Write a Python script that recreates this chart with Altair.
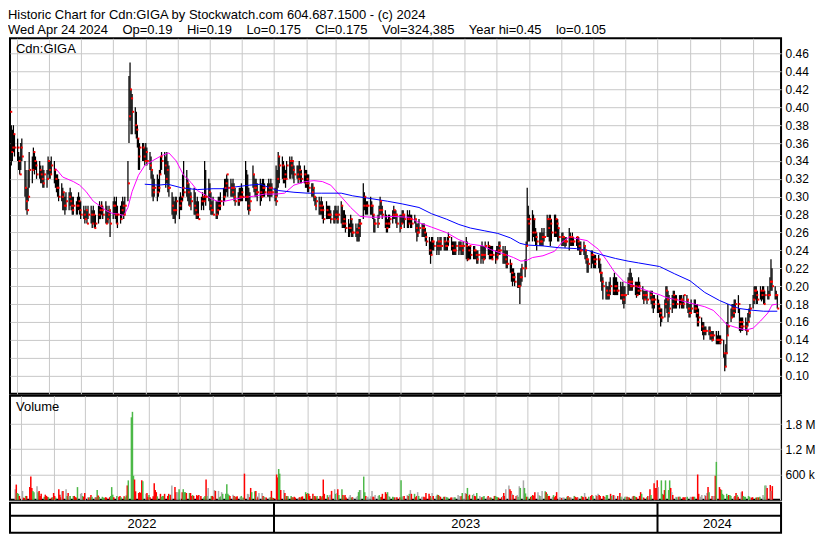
import altair as alt
import pandas as pd
import numpy as np

FONT = "Liberation Sans"
GAP = " \u00a0\u00a0\u00a0"

header_lines = [
    "Historic Chart for Cdn:GIGA by Stockwatch.com 604.687.1500 - (c) 2024",
    "Wed Apr 24 2024" + GAP + "Op=0.19" + GAP + "Hi=0.19" + GAP + "Lo=0.175" + GAP + "Cl=0.175"
    + GAP + "Vol=324,385" + GAP + "Year hi=0.45" + GAP + "lo=0.105",
]
symbol_label = "Cdn:GIGA"
volume_label = "Volume"
price_ticks = [0.10, 0.12, 0.14, 0.16, 0.18, 0.20, 0.22, 0.24, 0.26, 0.28,
               0.30, 0.32, 0.34, 0.36, 0.38, 0.40, 0.42, 0.44, 0.46]
volume_ticks = [600000, 1200000, 1800000]
year_labels = ["2022", "2023", "2024"]
year_starts = ["2023-01-01", "2024-01-01"]

# daily high / low / close in cents, one line per week (Apr 25 2022 .. Apr 24 2024)
high = [
    40, 38, 37.5, 38, 37,
    36.5, 35, 34.5, 36, 36.5,
    34, 33, 31, 33, 35,
    34.5, 35.5, 35, 34.5, 34,
    34, 33.5, 33, 33.5, 33,
    33, 34.5, 34, 34, 34.5,
    34, 33, 32.5, 32.5, 32,
    31.5, 31, 30.5, 30, 30.5,
    30.5, 31, 30.5, 30, 30,
    29.5, 30, 30.5, 30, 29.5,
    29, 28.5, 29, 28.5, 29,
    29, 28.5, 29, 28.5, 28,
    29, 29.5, 29, 29.5, 29,
    29.5, 29, 28.5, 29, 28.5,
    29.5, 30, 29.5, 30, 29,
    29, 29.5, 30, 29.5, 30,
    34, 43.5, 45, 42, 41.5,
    40, 39.5, 38, 36.5, 36,
    36, 36, 35.5, 36, 35.5,
    35, 34.5, 33, 32.5, 32,
    32.5, 32, 33, 34.5, 35,
    35, 34.5, 35, 34, 33.5,
    30.5, 30, 29.5, 30, 30,
    30, 30.5, 30, 32.5, 34,
    33, 32, 31.5, 31, 30.5,
    31, 30.5, 29.5, 30, 29.5,
    30, 30.5, 30, 34, 33,
    32, 31.5, 30.5, 29.5, 30,
    29.5, 29.5, 30, 30, 30.5,
    31, 32, 32, 32.5, 32,
    32, 31.5, 32, 31.5, 31,
    30.5, 31, 31, 31.5, 31,
    34, 33, 32.5, 31, 30.5,
    33.5, 32.5, 32, 32, 31.5,
    32, 31.5, 32, 32, 31.5,
    31.5, 32, 31.5, 32, 31.5,
    31, 33.5, 33, 35, 34.5,
    34.5, 34, 33.5, 33, 34,
    34.5, 34, 34.5, 34, 33.5,
    33.5, 33.5, 34, 33.5, 33,
    33.5, 33, 33, 32.5, 32.5,
    31.5, 31.5, 31, 30, 30,
    30, 29.5, 30, 29.5, 29,
    29.5, 29, 29, 29, 28.5,
    28.5, 29, 29, 28.5, 29,
    29.5, 29, 28.5, 28.5, 28,
    27.5, 27, 28, 27.5, 27,
    27, 26.5, 27, 27.5, 27.5,
    31.5, 30.5, 30, 29.5, 29.5,
    30, 29.5, 29, 28, 27.5,
    28, 29, 30, 29.5, 29,
    28.5, 28, 27.5, 28, 28,
    28.5, 29, 28.5, 28.5, 28,
    28, 28, 28.5, 28.5, 28,
    28.5, 28, 28.5, 28, 28,
    28, 27.5, 27, 27, 27.5,
    27, 27, 27, 26.5, 26,
    25.5, 25, 25.5, 25.5, 25,
    25, 25.5, 25, 25.5, 25.5,
    25.5, 25.5, 25, 25.5, 26,
    25.5, 25, 25, 25, 25,
    25, 25, 25, 24.5, 25,
    25.5, 25, 24.5, 24.5, 24.5,
    24.5, 24.5, 24, 24, 24,
    24.5, 25, 24.5, 24.5, 25,
    25, 24.5, 24.5, 24.5, 24.5,
    24, 24.5, 24.5, 25, 25,
    24.5, 24, 24.5, 24, 24,
    23, 22.5, 22, 22, 21.5,
    21.5, 21.5, 21.5, 22, 22.5,
    23, 25, 31, 29, 28,
    28.5, 28, 27.5, 26.5, 26,
    26, 26, 26.5, 26, 26.5,
    28, 27.5, 28, 28, 27.5,
    28, 28, 27.5, 27.5, 26.5,
    26, 26, 25.5, 25.5, 25.5,
    26.5, 26, 25.5, 26, 25.5,
    25.5, 25.5, 25.5, 25, 25,
    25, 24.5, 24, 23.5, 23,
    24, 24, 23.5, 23.5, 23.5,
    23.5, 23, 22.5, 21.5, 21,
    20.5, 20, 20, 20.5, 21,
    21, 21.5, 21, 21, 20.5,
    20.5, 20, 20.5, 20, 20,
    21, 21.5, 22, 21.5, 21,
    20.5, 20.5, 20.5, 21, 20.5,
    20, 19.5, 19.5, 19.5, 19.5,
    19.5, 19.5, 19.5, 19, 19,
    19, 18.5, 18, 17.5, 17.5,
    18.5, 20, 20, 19.5, 19,
    19, 19.5, 19.5, 19, 19,
    19, 19, 19, 18.5, 19,
    19, 18.5, 18, 18, 18.5,
    18.5, 18.5, 18, 18, 17.5,
    16.5, 16, 16, 15.5, 15.5,
    15.5, 15.5, 15, 15, 15,
    15, 14.5, 15, 14.5, 14.5,
    14, 12.5, 13.5, 16, 18,
    17.5, 18, 18, 18.5, 18.5,
    19, 17.5, 16.5, 16.5, 16.5,
    16.5, 16, 17, 17.5, 18,
    19, 20, 20, 20, 19.5,
    20, 19.5, 20, 20, 19.5,
    20, 19.5, 21, 23, 22,
    20, 19.5, 19,
]
low = [
    36.5, 33.5, 34, 35, 34.5,
    34, 33, 32.5, 33, 34,
    30, 28.5, 28, 29.5, 31,
    31.5, 33, 32.5, 33, 32,
    32, 31.5, 31.5, 31, 31,
    31, 32.5, 32, 32, 32.5,
    31.5, 31, 30.5, 30, 29.5,
    29.5, 28.5, 28.5, 28, 28.5,
    28.5, 29, 28.5, 28, 28,
    28, 28, 28.5, 28, 27.5,
    27.5, 27, 27.5, 27, 27.5,
    27, 26.5, 27, 26.5, 26.5,
    27, 27.5, 27.5, 28, 27.5,
    27, 27, 27, 27.5, 25.5,
    27.5, 28, 27.5, 27, 26.5,
    27, 27.5, 28, 27.5, 28,
    29.5, 36, 38.5, 37, 37,
    37, 36.5, 35.5, 33, 33,
    34, 34, 33.5, 34, 33.5,
    33, 32, 30, 29.5, 30,
    29.5, 30, 30.5, 32.5, 33,
    32.5, 31, 31.5, 30.5, 30,
    28, 27.5, 27.5, 27, 28,
    27.5, 28.5, 28.5, 29.5, 30,
    30, 29.5, 29, 29, 28.5,
    28, 28, 27.5, 27.5, 27.5,
    28.5, 29, 28.5, 29.5, 29,
    29.5, 28.5, 28, 28, 28,
    27.5, 27.5, 28, 28.5, 28.5,
    29, 29.5, 30, 30.5, 30,
    30, 30, 30, 29.5, 29,
    29, 29, 29.5, 29.5, 29.5,
    29.5, 29.5, 28.5, 28, 28.5,
    31, 30.5, 30, 30, 29.5,
    29, 29.5, 30, 30, 30,
    30, 30, 29.5, 30, 30,
    29.5, 29, 30, 31, 31.5,
    32, 31.5, 31.5, 31, 32,
    32, 32, 32.5, 32, 31.5,
    32, 31.5, 32, 31.5, 31.5,
    31.5, 31, 31, 30.5, 30.5,
    30, 30, 29.5, 29, 28.5,
    28, 28, 28, 27.5, 27,
    27.5, 27.5, 27.5, 27.5, 27,
    27, 27, 27.5, 27, 27,
    27, 26.5, 26.5, 26.5, 26,
    25.5, 25.5, 26, 25.5, 25.5,
    25.5, 25, 25, 25, 25.5,
    27.5, 28.5, 28, 28, 28,
    28, 28, 27.5, 26, 26,
    26.5, 27.5, 28, 28, 27.5,
    26.5, 26, 26, 26.5, 26.5,
    27, 27.5, 27.5, 27, 26.5,
    26, 26.5, 27, 27, 26.5,
    26.5, 26.5, 27, 26.5, 26.5,
    27, 26, 25, 25.5, 26,
    25.5, 25.5, 25.5, 25, 24.5,
    23.5, 22.5, 23.5, 24, 24,
    23.5, 24, 23.5, 24, 24,
    24, 24, 24, 24, 24.5,
    24, 23.5, 23.5, 23.5, 23.5,
    23.5, 24, 23.5, 23.5, 23.5,
    23, 22.8, 23, 23, 23,
    23, 23, 23, 22.5, 22.5,
    22.5, 23, 22.5, 23, 23,
    23.5, 23, 23, 23, 23,
    22.5, 23, 23, 23.5, 23.5,
    22.5, 22.5, 22.5, 22, 22,
    21.5, 20.5, 20, 20.5, 20,
    19.8, 19.8, 18, 20, 20.5,
    21, 22, 24.5, 25, 25,
    25, 25.5, 25, 24.5, 24,
    24.5, 24.5, 24.5, 24.5, 25,
    25.5, 25.5, 25, 24.5, 25,
    25.5, 25.5, 25.5, 25, 25,
    24.5, 24.5, 24.5, 24.3, 24.5,
    24, 24.5, 24.5, 24.5, 24.5,
    24.5, 24, 24, 23.5, 23.5,
    23.5, 23, 22.5, 21.5, 21.5,
    22, 22.5, 22, 22, 22,
    22, 21.5, 20.5, 19.5, 18.5,
    18.5, 18.5, 18.5, 18.5, 19,
    19, 19, 19, 19, 19,
    18.5, 18.5, 18, 17.5, 18,
    19, 19.5, 19.5, 19.5, 19.5,
    19, 18.7, 19, 19, 19,
    18.5, 18, 18.5, 18.5, 18,
    18.5, 18, 17.5, 17, 17.5,
    17, 17, 16.5, 15.5, 16,
    16.5, 17.5, 17, 16, 16.5,
    17, 17.5, 17.5, 17.5, 17.5,
    17.5, 18, 17.5, 17.5, 17.5,
    17.5, 17, 16.5, 16.5, 17,
    17, 17, 16.5, 15.5, 15.5,
    15, 14.5, 14, 14.5, 14.5,
    14.5, 14, 14, 13.8, 14,
    13.5, 13.5, 13.5, 13.5, 13.5,
    12, 10.5, 11, 12.5, 14.5,
    16, 16.5, 16.5, 16.5, 17,
    17, 15, 14.8, 15, 15,
    15, 14.5, 15.5, 16, 16.5,
    17.5, 18, 18.5, 18, 18,
    18.5, 18.3, 18.5, 18, 18,
    18.5, 18.5, 19, 19.5, 19.5,
    18.5, 18.5, 17.5,
]
close = [
    39.5, 35, 35.5, 37, 35.5,
    35.5, 34, 32.5, 35.5, 34.5,
    31, 29.5, 28.5, 30, 33,
    33, 35, 34, 33.5, 32.5,
    33, 32.5, 32, 31.5, 32.5,
    32, 34, 33, 32.5, 33.5,
    33, 32, 31, 31, 30,
    30, 30.5, 29, 29, 29.5,
    30, 29.5, 29, 28.5, 29,
    29, 29, 29.5, 28.5, 28,
    28, 27.5, 28.5, 27, 28,
    28, 27, 28, 26.5, 27,
    28, 28.5, 29, 28.5, 28,
    27, 27.5, 28, 28.5, 27,
    29, 29, 28, 27, 28,
    27.5, 28.5, 29, 28, 29,
    31.5, 39, 42, 41, 39.5,
    38, 37.5, 36.5, 34.5, 35.5,
    35.5, 34.5, 34, 35, 34,
    33.5, 33, 31, 30.5, 31,
    30.5, 31, 32.5, 34.5, 34,
    33.5, 32, 33, 31, 31,
    29, 28.5, 28.5, 28.5, 29.5,
    29, 29.5, 30, 31, 30.5,
    31.5, 30.5, 29, 30, 29.5,
    29, 28.5, 28, 28, 27.5,
    29.5, 30, 29.5, 30, 30,
    30.5, 29, 28.5, 28.5, 28,
    28, 28.5, 29, 29, 29.5,
    30, 31, 31.5, 32.5, 31,
    31, 30.5, 31, 30, 29.5,
    29.5, 30, 30, 30.5, 30,
    30, 30, 29, 28.5, 29.5,
    32.5, 31, 31, 30.5, 30.5,
    30.5, 30, 31, 31, 30.5,
    30.5, 31, 30.5, 31, 30.5,
    30, 29.5, 32, 34.5, 33.5,
    33.5, 32, 32.5, 32, 33.5,
    34, 33.5, 34, 33, 32.5,
    32.5, 32, 33, 32.5, 32,
    32.5, 31.5, 32, 31.5, 31,
    30.5, 31, 30, 29, 29.5,
    29, 28.5, 29, 28.5, 27.5,
    28.5, 28, 28, 28, 27.5,
    27.5, 28, 28, 27.5, 28,
    29, 27, 27.5, 27, 26.5,
    26.5, 26.5, 27.5, 26, 26,
    26, 26, 26.5, 27, 27,
    29, 30, 29, 29, 29,
    29, 29, 28, 27, 27,
    27, 28.5, 29.5, 28.5, 28,
    27, 26.5, 27, 27, 27.5,
    28, 28.5, 28, 28, 27,
    26.5, 27, 28, 28, 27.5,
    27.5, 27, 27.5, 27.5, 27,
    27.5, 26.5, 26, 26, 26.5,
    26.5, 26.5, 26, 25.5, 25,
    24, 23.5, 25, 25, 24.5,
    24.5, 25, 24.5, 25, 24.5,
    25, 24.5, 24.5, 25, 25.5,
    24.5, 24, 24, 24, 24.5,
    24.5, 24.5, 24.5, 24, 24.5,
    24.5, 23, 24, 24.5, 23.5,
    24, 24, 23.5, 23, 23.5,
    23.5, 23.5, 23, 23.5, 24.5,
    24.5, 23.5, 23.5, 23, 23.5,
    23, 23.5, 24, 24.5, 24,
    23.5, 23.5, 23, 22.5, 22.5,
    22.5, 21.5, 21, 21, 20.5,
    20, 20, 21, 21, 22,
    22, 24.5, 27.5, 27, 27.5,
    26, 27.5, 26, 25.5, 25,
    25, 25, 25.5, 25.5, 25.5,
    27.5, 26.5, 27.5, 27, 26,
    26, 27.5, 27, 26.5, 25.5,
    25.5, 25.5, 25, 25, 25,
    25.5, 25, 25.5, 25, 25,
    25.5, 25, 24.5, 24, 24,
    24.5, 24, 23, 23, 22.5,
    23.5, 23.5, 23, 22.5, 23,
    23, 21.5, 21.5, 20.5, 20,
    19.5, 19, 19, 19.5, 20,
    19.5, 20, 20, 19.5, 19.5,
    19, 19, 18.5, 19, 19,
    20.5, 20.5, 20, 20.5, 20,
    20, 19, 19.5, 20, 19.5,
    19, 18.5, 19, 19, 18.5,
    19, 18.5, 18.5, 18, 18.5,
    18, 17.5, 17, 16.5, 16.5,
    18, 19.5, 18.5, 17, 17.5,
    18, 19, 18.5, 18.5, 18,
    18, 18.5, 18.5, 18, 19,
    18.5, 17.5, 17, 17, 17.5,
    17.5, 17.5, 17, 16, 16.5,
    15.5, 15, 15, 15, 15,
    15, 14.5, 14.5, 14, 14.5,
    14, 14, 14, 13.7, 14,
    12.5, 11, 12.5, 14.5, 15.5,
    16.5, 17.5, 17, 17.5, 18,
    18, 16, 15.5, 16, 15.5,
    15.5, 15, 16, 17, 17.5,
    18.5, 19.5, 19.5, 19, 18.5,
    19.5, 19, 19.5, 18, 19,
    19, 19, 20.5, 20.5, 20,
    19, 19, 17.5,
]
# daily volume in thousands of shares
volume_k = [
    250, 360, 160, 140, 90,
    210, 50, 40, 90, 90,
    300, 550, 280, 210, 180,
    320, 180, 210, 90, 140,
    70, 120, 90, 70, 60,
    50, 60, 160, 90, 50,
    250, 120, 60, 200, 210,
    250, 90, 160, 90, 90,
    90, 90, 60, 50, 300,
    140, 160, 90, 70, 160,
    60, 50, 60, 110, 70,
    60, 60, 230, 100, 70,
    70, 50, 40, 60, 50,
    60, 90, 300, 120, 60,
    90, 60, 70, 90, 60,
    80, 60, 100, 340, 460,
    1960, 2090, 570, 480, 200,
    160, 180, 160, 460, 440,
    140, 160, 70, 110, 60,
    80, 390, 230, 180, 80,
    140, 70, 90, 90, 140,
    90, 140, 110, 120, 340,
    300, 180, 180, 180, 250,
    180, 250, 180, 180, 160,
    160, 160, 90, 110, 90,
    110, 90, 110, 70, 90,
    60, 90, 480, 90, 280,
    90, 90, 70, 230, 210,
    210, 60, 80, 180, 140,
    140, 370, 140, 110, 90,
    120, 90, 70, 70, 80,
    70, 90, 50, 50, 620,
    140, 130, 60, 280, 180,
    200, 210, 90, 60, 160,
    160, 90, 70, 60, 50,
    50, 60, 210, 50, 40,
    600, 530, 730, 620, 230,
    230, 160, 90, 90, 80,
    90, 60, 50, 70, 50,
    40, 60, 50, 70, 80,
    180, 140, 160, 140, 90,
    140, 90, 90, 60, 90,
    90, 60, 90, 480, 140,
    110, 60, 110, 120, 210,
    250, 140, 160, 250, 110,
    250, 110, 90, 110, 50,
    70, 110, 50, 60, 50,
    60, 90, 180, 230, 230,
    550, 180, 90, 50, 70,
    80, 210, 70, 70, 110,
    90, 110, 60, 70, 140,
    180, 140, 180, 90, 70,
    70, 60, 50, 50, 60,
    60, 460, 70, 90, 90,
    110, 90, 140, 230, 140,
    140, 60, 90, 180, 90,
    70, 70, 70, 60, 160,
    140, 90, 50, 160, 90,
    90, 120, 110, 90, 70,
    70, 70, 70, 60, 50,
    50, 50, 40, 60, 60,
    110, 90, 70, 90, 160,
    160, 140, 280, 90, 120,
    110, 140, 90, 80, 160,
    90, 60, 60, 70, 90,
    60, 90, 50, 50, 50,
    90, 90, 70, 60, 50,
    60, 90, 160, 90, 250,
    340, 250, 210, 140, 110,
    90, 110, 70, 320, 280,
    460, 280, 150, 70, 70,
    70, 90, 110, 90, 180,
    180, 110, 90, 90, 210,
    200, 180, 140, 90, 90,
    70, 110, 60, 90, 180,
    60, 50, 40, 50, 50,
    70, 90, 60, 50, 50,
    90, 70, 50, 60, 50,
    90, 70, 60, 160, 70,
    70, 60, 90, 110, 90,
    110, 90, 140, 110, 90,
    90, 70, 60, 110, 110,
    140, 90, 110, 110, 90,
    90, 90, 160, 70, 70,
    70, 70, 70, 60, 50,
    70, 90, 90, 70, 60,
    90, 180, 140, 60, 50,
    60, 90, 90, 250, 110,
    390, 280, 280, 460, 300,
    460, 140, 120, 230, 460,
    230, 460, 280, 180, 110,
    70, 60, 70, 70, 70,
    60, 50, 60, 50, 70,
    70, 60, 70, 70, 70,
    600, 140, 70, 70, 110,
    110, 90, 160, 300, 180,
    90, 90, 90, 570, 900,
    300, 250, 230, 140, 110,
    140, 90, 110, 110, 90,
    70, 90, 160, 110, 70,
    180, 200, 90, 70, 70,
    90, 70, 50, 50, 60,
    50, 50, 60, 50, 70,
    110, 70, 340, 340, 280,
    350, 210, 324,
]
# moving averages: (trading-day index, value in cents)
ma_short_idx = [31, 36, 40, 44, 48, 52, 57, 61, 66, 70, 74, 78, 80, 84, 88, 92, 97, 104, 109, 114,
                119, 124, 128, 132, 137, 141, 146, 152, 159, 168, 174, 181, 187, 194, 201, 207, 213,
                219, 225, 232, 239, 247, 261, 272, 279, 287, 297, 305, 314, 322, 327, 336, 343, 348,
                352, 355, 363, 370, 375, 380, 386, 393, 400, 405, 411, 418, 425, 434, 443, 447, 456,
                465, 473, 479, 483, 488, 495, 500, 505, 510, 515, 519, 522]
ma_short_val = [33.2, 32.2, 31.9, 31.7, 31.3, 30.6, 29.5, 29.0, 28.4, 28.1, 28.1, 27.9, 28.8, 30.6,
                32.4, 33.5, 34.0, 34.6, 34.9, 34.0, 32.4, 31.6, 30.7, 30.3, 29.8, 29.5, 29.5, 29.7,
                29.9, 30.1, 30.3, 30.3, 30.4, 31.3, 31.7, 31.8, 31.7, 31.3, 30.0, 28.8, 27.8, 27.7,
                27.8, 27.7, 27.1, 26.6, 26.0, 25.2, 24.7, 24.5, 24.1, 23.6, 23.2, 22.8, 22.9, 23.2,
                23.4, 23.9, 24.9, 25.5, 25.3, 25.1, 24.1, 23.0, 21.6, 20.5, 20.0, 19.5, 19.0, 18.7,
                18.4, 18.0, 17.7, 17.3, 16.6, 15.7, 15.3, 15.1, 15.3, 16.1, 17.0, 17.9, 18.0]
ma_long_idx = [92, 101, 108, 117, 128, 139, 146, 154, 164, 170, 177, 183, 194, 203, 212, 225, 234,
               245, 257, 267, 279, 287, 297, 305, 314, 323, 332, 340, 347, 352, 363, 374, 385, 394,
               403, 412, 420, 428, 442, 452, 463, 473, 483, 489, 496, 505, 513, 522]
ma_long_val = [31.4, 31.3, 31.4, 31.0, 30.8, 30.9, 30.9, 31.1, 31.3, 31.4, 31.0, 30.7, 30.5, 30.4,
               30.4, 30.4, 30.1, 29.8, 29.5, 29.2, 28.8, 28.1, 27.5, 26.9, 26.5, 26.2, 25.9, 25.4,
               24.8, 24.6, 24.5, 24.3, 24.2, 24.0, 23.5, 23.1, 22.8, 22.6, 22.2, 21.4, 20.6, 19.3,
               18.4, 18.0, 17.5, 17.3, 17.2, 17.2]

# ---------------------------------------------------------------- tables
dates = pd.bdate_range("2022-04-25", "2024-04-24")
n = len(dates)
assert len(high) == n and len(low) == n and len(close) == n and len(volume_k) == n

df = pd.DataFrame({
    "date": dates,
    "high": np.array(high) / 100.0,
    "low": np.array(low) / 100.0,
    "close": np.array(close) / 100.0,
    "volume": np.array(volume_k) * 1000.0,
})
prev = df["close"].shift(1)
df["dir"] = np.where(prev.isna(), "flat",
                     np.where(df["close"] > prev, "up",
                              np.where(df["close"] < prev, "down", "flat")))

ma_s = pd.DataFrame({"date": dates[ma_short_idx], "value": np.array(ma_short_val) / 100.0})
ma_l = pd.DataFrame({"date": dates[ma_long_idx], "value": np.array(ma_long_val) / 100.0})

dom_start = pd.Timestamp("2022-04-24 18:00")
dom_end = pd.Timestamp("2024-04-27 14:00")
bounds = [dom_start, pd.Timestamp(year_starts[0]), pd.Timestamp(year_starts[1]), dates[-1]]
mids = [bounds[i] + (bounds[i + 1] - bounds[i]) / 2 for i in range(3)]
years_df = pd.DataFrame({"year": year_labels, "mid": mids})
bound_df = pd.DataFrame({"date": pd.to_datetime(year_starts)})

# ---------------------------------------------------------------- layout
W = 772
H_P = 356
H_V = 104
H_B = 30
GRID = "#c8c8c8"

def dt(ts):
    return alt.DateTime(year=ts.year, month=ts.month, date=ts.day, hours=ts.hour)

x_scale = alt.Scale(domain=[dt(dom_start), dt(dom_end)])
x_axis = alt.Axis(grid=True, labels=False, ticks=False, domain=False, title=None,
                  tickCount={"interval": "month", "step": 1}, gridColor=GRID, gridWidth=1)

def xenc(field="date:T"):
    return alt.X(field, scale=x_scale, axis=x_axis)

p_scale = alt.Scale(domain=[0.0796, 0.4772], nice=False, zero=False)
p_axis = alt.Axis(orient="right", values=price_ticks, format=".2f", grid=True, ticks=False,
                  domain=False, title=None, labelFont=FONT, labelFontSize=12, labelColor="black",
                  labelPadding=4, gridColor=GRID, gridWidth=1, minExtent=40, maxExtent=40)

def penc(field):
    return alt.Y(field, scale=p_scale, axis=p_axis)

bars = alt.Chart(df).mark_rule(color="black", strokeWidth=1.25).encode(
    x=xenc(), y=penc("low:Q"), y2="high:Q")
line_s = alt.Chart(ma_s).mark_line(color="#ff00ff", strokeWidth=1).encode(
    x=xenc(), y=penc("value:Q"))
line_l = alt.Chart(ma_l).mark_line(color="#0000ff", strokeWidth=1).encode(
    x=xenc(), y=penc("value:Q"))
closes = alt.Chart(df).mark_square(size=4, color="#ff0000", opacity=1, xOffset=1).encode(
    x=xenc(), y=penc("close:Q"))
sym = alt.Chart(pd.DataFrame({"t": [symbol_label]})).mark_text(
    align="left", baseline="middle", font=FONT, fontSize=13, color="black").encode(
    x=alt.value(6), y=alt.value(11), text="t:N")

price = alt.layer(bars, line_s, line_l, closes, sym).properties(width=W, height=H_P)

v_scale = alt.Scale(domain=[0, 2470000], nice=False)
v_axis = alt.Axis(orient="right", values=volume_ticks, grid=True, ticks=False, domain=False,
                  title=None, labelFont=FONT, labelFontSize=12, labelColor="black",
                  labelPadding=4, gridColor=GRID, gridWidth=1, minExtent=40, maxExtent=40,
                  labelExpr="datum.value >= 1000000 ? format(datum.value/1000000, '.1f') + ' M' : format(datum.value/1000, 'd') + ' k'")
vbars = alt.Chart(df).mark_bar(width=1.5).encode(
    x=xenc(),
    y=alt.Y("volume:Q", scale=v_scale, axis=v_axis),
    color=alt.Color("dir:N", scale=alt.Scale(domain=["up", "down", "flat"],
                                             range=["#4cb848", "#ff0000", "#aaaaaa"]),
                    legend=None))
vlab = alt.Chart(pd.DataFrame({"t": [volume_label]})).mark_text(
    align="left", baseline="middle", font=FONT, fontSize=13, color="black").encode(
    x=alt.value(6), y=alt.value(11), text="t:N")
volume = alt.layer(vbars, vlab).properties(width=W, height=H_V)

yr_rules = alt.Chart(bound_df).mark_rule(color="black", strokeWidth=2).encode(
    x=alt.X("date:T", scale=x_scale, axis=None))
yr_div = alt.Chart(pd.DataFrame({"a": [0]})).mark_rule(color="black", strokeWidth=2).encode(
    x=alt.value(0), x2=alt.value(W), y=alt.value(13))
yr_text = alt.Chart(years_df).mark_text(font=FONT, fontSize=13, color="black",
                                        baseline="middle").encode(
    x=alt.X("mid:T", scale=x_scale, axis=None), y=alt.value(21.5), text="year:N")
band = alt.layer(yr_rules, yr_div, yr_text).properties(width=W, height=H_B)

chart = alt.vconcat(
    price, volume, band, spacing=0,
    title=alt.TitleParams(text=header_lines, anchor="start", font=FONT, fontSize=13,
                          fontWeight="normal", color="black", lineHeight=15, offset=0),
).properties(
    padding={"left": 0, "top": 1, "right": 0, "bottom": 0}
).configure(font=FONT).configure_view(stroke="black", strokeWidth=2)

chart.save("out.html", embed_options={"renderer": "svg", "actions": False})
